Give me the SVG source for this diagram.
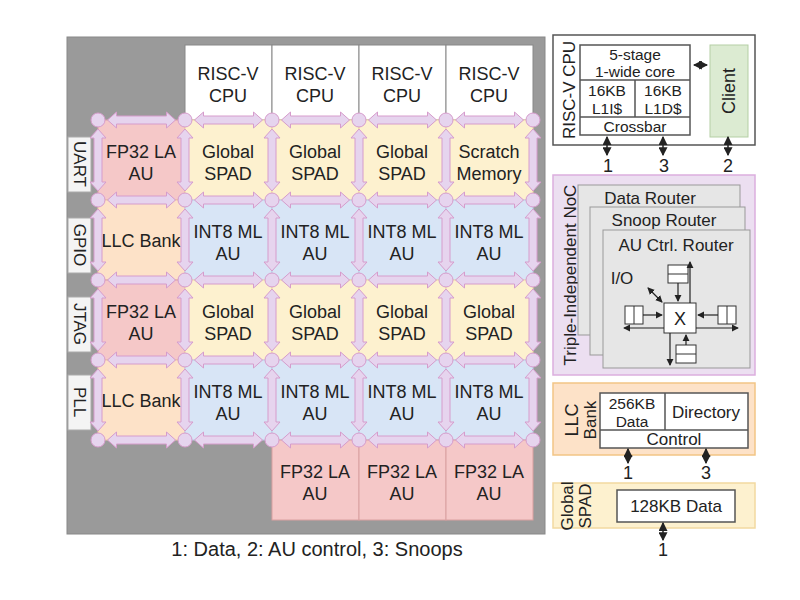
<svg xmlns="http://www.w3.org/2000/svg" width="800" height="600" viewBox="0 0 800 600">
<style>
text{font-family:"Liberation Sans",Arial,sans-serif;fill:#222;text-anchor:middle}
.t{font-size:18px}
.s{font-size:17px}
.u{font-size:15.5px}
.red{fill:#f5c8c8;stroke:#d9a0a0}
.yel{fill:#fdf1cf;stroke:#f0d9a0}
.org{fill:#fde2c8;stroke:#f0c8a0}
.blu{fill:#d8e5f6;stroke:#b8cbe6}
.wht{fill:#fff;stroke:#555;stroke-width:1.5}
.side{fill:#f4f4f4;stroke:#aaa}
.ha,.va{fill:#e6d4ee;stroke:#d69ccc;stroke-width:1}
.nd{fill:#e6d4ee;stroke:#d69ccc}
.ln{stroke:#222;stroke-width:1.5;fill:none}
</style>
<defs>
<path id="h" class="ha" d="M-34,0 L-25,-8 L-25,-4 L25,-4 L25,-8 L34,0 L25,8 L25,4 L-25,4 L-25,8 Z"/>
<path id="v" class="va" d="M0,-31 L-8,-22 L-4,-22 L-4,22 L-8,22 L0,31 L8,22 L4,22 L4,-22 L8,-22 Z"/>
<marker id="ar" viewBox="0 0 8 8" refX="7" refY="4" markerWidth="6" markerHeight="6" orient="auto-start-reverse"><path d="M0,0 L8,4 L0,8 Z" fill="#222"/></marker>
</defs>
<rect x="67" y="37" width="478" height="497" fill="#9a9a9a" stroke="#888"/>
<g id="cpus">
<rect class="wht" x="185" y="45" width="87" height="75" style="stroke:#888;stroke-width:1"/>
<rect class="wht" x="272" y="45" width="87" height="75" style="stroke:#888;stroke-width:1"/>
<rect class="wht" x="359" y="45" width="87" height="75" style="stroke:#888;stroke-width:1"/>
<rect class="wht" x="446" y="45" width="87" height="75" style="stroke:#888;stroke-width:1"/>
<text class="t" x="228" y="80">RISC-V</text><text class="t" x="228" y="102">CPU</text>
<text class="t" x="315" y="80">RISC-V</text><text class="t" x="315" y="102">CPU</text>
<text class="t" x="402" y="80">RISC-V</text><text class="t" x="402" y="102">CPU</text>
<text class="t" x="489" y="80">RISC-V</text><text class="t" x="489" y="102">CPU</text>
</g>
<g id="io">
<rect class="side" x="68" y="137" width="23" height="55"/><text class="s" transform="translate(74,164) rotate(90)">UART</text>
<rect class="side" x="68" y="218" width="23" height="55"/><text class="s" transform="translate(74,245) rotate(90)">GPIO</text>
<rect class="side" x="68" y="297" width="23" height="55"/><text class="s" transform="translate(74,324) rotate(90)">JTAG</text>
<rect class="side" x="68" y="375" width="23" height="55"/><text class="s" transform="translate(74,402) rotate(90)">PLL</text>
</g>
<g id="tiles">
<rect class="red" x="98" y="120" width="87" height="80"/><text class="t" x="141" y="158">FP32 LA</text><text class="t" x="141" y="180">AU</text>
<rect class="yel" x="185" y="120" width="87" height="80"/><text class="t" x="228" y="158">Global</text><text class="t" x="228" y="180">SPAD</text>
<rect class="yel" x="272" y="120" width="87" height="80"/><text class="t" x="315" y="158">Global</text><text class="t" x="315" y="180">SPAD</text>
<rect class="yel" x="359" y="120" width="87" height="80"/><text class="t" x="402" y="158">Global</text><text class="t" x="402" y="180">SPAD</text>
<rect class="yel" x="446" y="120" width="87" height="80"/><text class="t" x="489" y="158">Scratch</text><text class="t" x="489" y="180">Memory</text>
<rect class="org" x="98" y="200" width="87" height="80"/><text class="t" x="141" y="247">LLC Bank</text>
<rect class="blu" x="185" y="200" width="87" height="80"/><text class="t" x="228" y="238">INT8 ML</text><text class="t" x="228" y="260">AU</text>
<rect class="blu" x="272" y="200" width="87" height="80"/><text class="t" x="315" y="238">INT8 ML</text><text class="t" x="315" y="260">AU</text>
<rect class="blu" x="359" y="200" width="87" height="80"/><text class="t" x="402" y="238">INT8 ML</text><text class="t" x="402" y="260">AU</text>
<rect class="blu" x="446" y="200" width="87" height="80"/><text class="t" x="489" y="238">INT8 ML</text><text class="t" x="489" y="260">AU</text>
<rect class="red" x="98" y="280" width="87" height="80"/><text class="t" x="141" y="318">FP32 LA</text><text class="t" x="141" y="340">AU</text>
<rect class="yel" x="185" y="280" width="87" height="80"/><text class="t" x="228" y="318">Global</text><text class="t" x="228" y="340">SPAD</text>
<rect class="yel" x="272" y="280" width="87" height="80"/><text class="t" x="315" y="318">Global</text><text class="t" x="315" y="340">SPAD</text>
<rect class="yel" x="359" y="280" width="87" height="80"/><text class="t" x="402" y="318">Global</text><text class="t" x="402" y="340">SPAD</text>
<rect class="yel" x="446" y="280" width="87" height="80"/><text class="t" x="489" y="318">Global</text><text class="t" x="489" y="340">SPAD</text>
<rect class="org" x="98" y="360" width="87" height="80"/><text class="t" x="141" y="407">LLC Bank</text>
<rect class="blu" x="185" y="360" width="87" height="80"/><text class="t" x="228" y="398">INT8 ML</text><text class="t" x="228" y="420">AU</text>
<rect class="blu" x="272" y="360" width="87" height="80"/><text class="t" x="315" y="398">INT8 ML</text><text class="t" x="315" y="420">AU</text>
<rect class="blu" x="359" y="360" width="87" height="80"/><text class="t" x="402" y="398">INT8 ML</text><text class="t" x="402" y="420">AU</text>
<rect class="blu" x="446" y="360" width="87" height="80"/><text class="t" x="489" y="398">INT8 ML</text><text class="t" x="489" y="420">AU</text>
<rect class="red" x="272" y="440" width="87" height="80"/><text class="t" x="315" y="478">FP32 LA</text><text class="t" x="315" y="500">AU</text>
<rect class="red" x="359" y="440" width="87" height="80"/><text class="t" x="402" y="478">FP32 LA</text><text class="t" x="402" y="500">AU</text>
<rect class="red" x="446" y="440" width="87" height="80"/><text class="t" x="489" y="478">FP32 LA</text><text class="t" x="489" y="500">AU</text>
</g>
<g id="connectors">
<g id="hz">
<use href="#h" x="141.5" y="120"/><use href="#h" x="228.5" y="120"/><use href="#h" x="315.5" y="120"/><use href="#h" x="402.5" y="120"/><use href="#h" x="489.5" y="120"/>
<use href="#h" x="141.5" y="200"/><use href="#h" x="228.5" y="200"/><use href="#h" x="315.5" y="200"/><use href="#h" x="402.5" y="200"/><use href="#h" x="489.5" y="200"/>
<use href="#h" x="141.5" y="280"/><use href="#h" x="228.5" y="280"/><use href="#h" x="315.5" y="280"/><use href="#h" x="402.5" y="280"/><use href="#h" x="489.5" y="280"/>
<use href="#h" x="141.5" y="360"/><use href="#h" x="228.5" y="360"/><use href="#h" x="315.5" y="360"/><use href="#h" x="402.5" y="360"/><use href="#h" x="489.5" y="360"/>
<use href="#h" x="141.5" y="440"/><use href="#h" x="228.5" y="440"/><use href="#h" x="315.5" y="440"/><use href="#h" x="402.5" y="440"/><use href="#h" x="489.5" y="440"/>
</g>
<g id="vt">
<use href="#v" x="98" y="160"/><use href="#v" x="185" y="160"/><use href="#v" x="272" y="160"/><use href="#v" x="359" y="160"/><use href="#v" x="446" y="160"/><use href="#v" x="533" y="160"/>
<use href="#v" x="98" y="240"/><use href="#v" x="185" y="240"/><use href="#v" x="272" y="240"/><use href="#v" x="359" y="240"/><use href="#v" x="446" y="240"/><use href="#v" x="533" y="240"/>
<use href="#v" x="98" y="320"/><use href="#v" x="185" y="320"/><use href="#v" x="272" y="320"/><use href="#v" x="359" y="320"/><use href="#v" x="446" y="320"/><use href="#v" x="533" y="320"/>
<use href="#v" x="98" y="400"/><use href="#v" x="185" y="400"/><use href="#v" x="272" y="400"/><use href="#v" x="359" y="400"/><use href="#v" x="446" y="400"/><use href="#v" x="533" y="400"/>
</g>
<g id="nodes">
<circle class="nd" cx="98" cy="120" r="7"/><circle class="nd" cx="185" cy="120" r="7"/><circle class="nd" cx="272" cy="120" r="7"/><circle class="nd" cx="359" cy="120" r="7"/><circle class="nd" cx="446" cy="120" r="7"/><circle class="nd" cx="533" cy="120" r="7"/>
<circle class="nd" cx="98" cy="200" r="7"/><circle class="nd" cx="185" cy="200" r="7"/><circle class="nd" cx="272" cy="200" r="7"/><circle class="nd" cx="359" cy="200" r="7"/><circle class="nd" cx="446" cy="200" r="7"/><circle class="nd" cx="533" cy="200" r="7"/>
<circle class="nd" cx="98" cy="280" r="7"/><circle class="nd" cx="185" cy="280" r="7"/><circle class="nd" cx="272" cy="280" r="7"/><circle class="nd" cx="359" cy="280" r="7"/><circle class="nd" cx="446" cy="280" r="7"/><circle class="nd" cx="533" cy="280" r="7"/>
<circle class="nd" cx="98" cy="360" r="7"/><circle class="nd" cx="185" cy="360" r="7"/><circle class="nd" cx="272" cy="360" r="7"/><circle class="nd" cx="359" cy="360" r="7"/><circle class="nd" cx="446" cy="360" r="7"/><circle class="nd" cx="533" cy="360" r="7"/>
<circle class="nd" cx="98" cy="440" r="7"/><circle class="nd" cx="185" cy="440" r="7"/><circle class="nd" cx="272" cy="440" r="7"/><circle class="nd" cx="359" cy="440" r="7"/><circle class="nd" cx="446" cy="440" r="7"/><circle class="nd" cx="533" cy="440" r="7"/>
</g>
</g>
<text x="317" y="556" style="font-size:20px">1: Data, 2: AU control, 3: Snoops</text>
<g id="cpu-detail">
<rect x="553" y="35" width="202" height="110" fill="#fff" stroke="#555" stroke-width="1.5"/>
<text class="s" transform="translate(575,90) rotate(-90)">RISC-V CPU</text>
<rect class="wht" x="580" y="45" width="110" height="90"/>
<line x1="580" y1="80" x2="690" y2="80" stroke="#555" stroke-width="1.5"/>
<line x1="580" y1="117" x2="690" y2="117" stroke="#555" stroke-width="1.5"/>
<line x1="635" y1="80" x2="635" y2="117" stroke="#555" stroke-width="1.5"/>
<text class="u" x="635" y="60">5-stage</text><text class="u" x="635" y="77">1-wide core</text>
<text class="u" x="607" y="96">16KB</text><text class="u" x="607" y="114">L1I$</text>
<text class="u" x="663" y="96">16KB</text><text class="u" x="663" y="114">L1D$</text>
<text class="u" x="635" y="132">Crossbar</text>
<rect x="710" y="45" width="38" height="92" fill="#dcebd2" stroke="#b5cfa5"/>
<text class="t" transform="translate(735,91) rotate(-90)">Client</text>
<line class="ln" x1="694" y1="65" x2="707" y2="65" marker-start="url(#ar)" marker-end="url(#ar)"/>
<line class="ln" x1="607" y1="137" x2="607" y2="155" marker-start="url(#ar)" marker-end="url(#ar)"/>
<line class="ln" x1="663" y1="137" x2="663" y2="155" marker-start="url(#ar)" marker-end="url(#ar)"/>
<line class="ln" x1="728" y1="137" x2="728" y2="155" marker-start="url(#ar)" marker-end="url(#ar)"/>
<text class="t" x="608" y="172">1</text><text class="t" x="664" y="172">3</text><text class="t" x="728" y="172">2</text>
</g>
<g id="noc-detail">
<rect x="553" y="175" width="202" height="200" fill="#ecdff1" stroke="#dcaede" stroke-width="1.5"/>
<text class="s" transform="translate(576,275) rotate(-90)">Triple-Independent NoC</text>
<rect x="578" y="185" width="162" height="150" fill="#e6e6e6" stroke="#999"/>
<text class="s" x="650" y="204">Data Router</text>
<rect x="590" y="207" width="155" height="148" fill="#e6e6e6" stroke="#999"/>
<text class="s" x="664" y="226">Snoop Router</text>
<rect x="603" y="230" width="147" height="138" fill="#e6e6e6" stroke="#999"/>
<text class="s" x="676" y="251">AU Ctrl. Router</text>
<text class="s" x="622" y="284">I/O</text>
<rect x="664" y="303" width="32" height="30" fill="#fff" stroke="#333"/>
<text class="t" x="680" y="325">X</text>
<rect x="668" y="265" width="20" height="18" fill="#fff" stroke="#333"/><line x1="668" y1="274" x2="688" y2="274" stroke="#333"/>
<rect x="676" y="345" width="20" height="18" fill="#fff" stroke="#333"/><line x1="676" y1="354" x2="696" y2="354" stroke="#333"/>
<rect x="625" y="306" width="18" height="18" fill="#fff" stroke="#333"/><line x1="634" y1="306" x2="634" y2="324" stroke="#333"/>
<rect x="718" y="306" width="18" height="18" fill="#fff" stroke="#333"/><line x1="727" y1="306" x2="727" y2="324" stroke="#333"/>
<g stroke="#222" stroke-width="1.2" fill="none">
<line x1="643" y1="315" x2="662" y2="315" marker-end="url(#ar)"/>
<line x1="718" y1="315" x2="698" y2="315" marker-end="url(#ar)"/>
<line x1="678" y1="283" x2="678" y2="301" marker-end="url(#ar)"/>
<line x1="686" y1="345" x2="686" y2="335" marker-end="url(#ar)"/>
<line x1="690" y1="303" x2="690" y2="262" marker-end="url(#ar)"/>
<line x1="670" y1="333" x2="670" y2="365" marker-end="url(#ar)"/>
<polyline points="664,328 624,328" marker-end="url(#ar)"/>
<polyline points="696,328 738,328" marker-end="url(#ar)"/>
<line x1="648" y1="288" x2="662" y2="302" marker-start="url(#ar)" marker-end="url(#ar)"/>
</g>
</g>
<g id="llc-detail">
<rect x="553" y="383" width="202" height="72" fill="#fde2c8" stroke="#f2c585" stroke-width="1.5"/>
<text class="t" transform="translate(578,420) rotate(-90)">LLC</text>
<text class="s" transform="translate(596,420) rotate(-90)">Bank</text>
<rect class="wht" x="600" y="393" width="148" height="55"/>
<line x1="600" y1="430" x2="748" y2="430" stroke="#555" stroke-width="1.5"/>
<line x1="665" y1="393" x2="665" y2="430" stroke="#555" stroke-width="1.5"/>
<text class="u" x="632" y="409">256KB</text><text class="u" x="632" y="427">Data</text>
<text class="s" x="706" y="418">Directory</text>
<text class="s" x="674" y="445">Control</text>
<line class="ln" x1="628" y1="449" x2="628" y2="463" marker-start="url(#ar)" marker-end="url(#ar)"/>
<line class="ln" x1="706" y1="449" x2="706" y2="463" marker-start="url(#ar)" marker-end="url(#ar)"/>
<text class="t" x="628" y="479">1</text><text class="t" x="706" y="479">3</text>
</g>
<g id="spad-detail">
<rect x="553" y="483" width="202" height="45" fill="#fdf1cf" stroke="#f2d9a0" stroke-width="1.5"/>
<text class="s" transform="translate(573,506) rotate(-90)">Global</text>
<text class="s" transform="translate(591,506) rotate(-90)">SPAD</text>
<rect class="wht" x="617" y="490" width="118" height="32"/>
<text class="s" x="676" y="512">128KB Data</text>
<line class="ln" x1="663" y1="523" x2="663" y2="540" marker-start="url(#ar)" marker-end="url(#ar)"/>
<text class="t" x="663" y="556">1</text>
</g>
</svg>
